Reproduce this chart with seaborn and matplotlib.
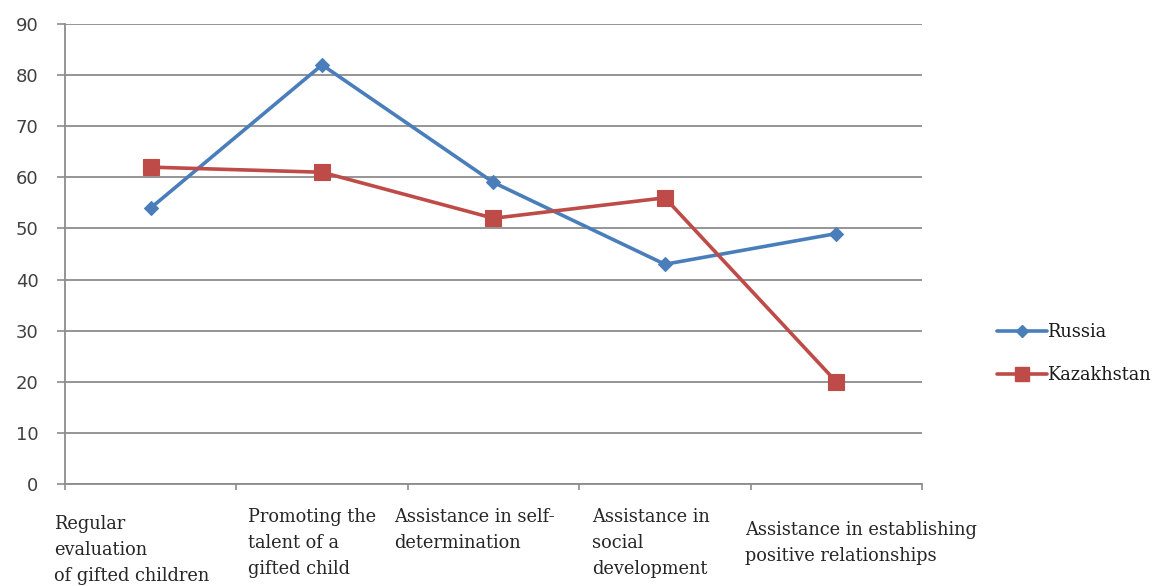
import matplotlib
matplotlib.use("Agg")
import matplotlib.pyplot as plt
import seaborn as sns
import pandas as pd
from matplotlib.ticker import FixedLocator
from matplotlib.lines import Line2D

categories = [
    "Regular\nevaluation\nof gifted children",
    "Promoting the\ntalent of a\ngifted child",
    "Assistance in self-\ndetermination",
    "Assistance in\nsocial\ndevelopment",
    "Assistance in establishing\npositive relationships",
]
russia = [54, 82, 59, 43, 49]
kazakhstan = [62, 61, 52, 56, 20]
series_names = ["Russia", "Kazakhstan"]
y_ticks = [0, 10, 20, 30, 40, 50, 60, 70, 80, 90]

# small text nudges (pixels) to mimic the original label layout
label_dx = [-19, -10, -19, -14, 25]
label_dy = [7, 0, 0, 0, 13]

pos = list(range(len(categories)))
df = pd.DataFrame({
    "pos": pos * 2,
    "value": russia + kazakhstan,
    "country": [series_names[0]] * len(pos) + [series_names[1]] * len(pos),
})

sns.set_style("white")
fig = plt.figure(figsize=(11.64, 5.86), dpi=100)
ax = fig.add_axes([0.0558, 0.174, 0.7363, 0.785])

palette = {"Russia": "#4A7EBB", "Kazakhstan": "#BE4B48"}
markers = {"Russia": "D", "Kazakhstan": "s"}
msizes = {"Russia": 7, "Kazakhstan": 11.5}
sns.lineplot(data=df, x="pos", y="value", hue="country", style="country",
             markers=markers, dashes=False, palette=palette, linewidth=2.6,
             sort=False, ax=ax, legend=False)
for line, name in zip(ax.lines, series_names):
    line.set_markersize(msizes[name])
    line.set_markeredgecolor(palette[name])
    line.set_markeredgewidth(0.8)

grid_c = "#8c8c8c"
ax.set_xlim(-0.5, len(categories) - 0.5)
ax.set_ylim(0, 90)
ax.set_yticks(y_ticks)
ax.yaxis.grid(True, color=grid_c, linewidth=1.3)
ax.set_axisbelow(True)
for s in ["top", "right"]:
    ax.spines[s].set_visible(False)
for s in ["left", "bottom"]:
    ax.spines[s].set_color(grid_c)
    ax.spines[s].set_linewidth(1.3)

# category labels
ax.set_xticks(pos)
ax.set_xticklabels([])
for p, text, dx, dy in zip(pos, categories, label_dx, label_dy):
    ax.annotate(text, xy=(p, 0), xycoords=("data", "axes fraction"),
                xytext=(dx * 0.72, -(23.5 + dy) * 0.72), textcoords="offset points",
                ha="center", va="top", multialignment="left",
                family="DejaVu Serif", fontsize=12.8, color="#262626",
                linespacing=1.6, annotation_clip=False)
ax.xaxis.set_minor_locator(FixedLocator([p - 0.5 for p in pos] + [len(pos) - 0.5]))
ax.tick_params(axis="x", which="major", length=0)
ax.tick_params(axis="x", which="minor", length=4, color=grid_c, width=1.2,
               direction="out", bottom=True)
ax.tick_params(axis="y", length=6, color=grid_c, width=1.2, direction="out", left=True,
               labelsize=13, labelcolor="#404040", pad=13)
ax.set_xlabel("")
ax.set_ylabel("")

handles = [Line2D([], [], color=palette[n], marker=markers[n], markersize=msizes[n] * 0.85,
                  linewidth=2.6, markeredgecolor=palette[n])
           for n in series_names]
fig.legend(handles, series_names, loc="center left", bbox_to_anchor=(0.843, 0.396),
           frameon=False, prop={"family": "DejaVu Serif", "size": 12.8},
           handlelength=2.8, handletextpad=0.0, labelspacing=1.4, labelcolor="#1a1a1a")

fig.savefig("out.png", dpi=100)
